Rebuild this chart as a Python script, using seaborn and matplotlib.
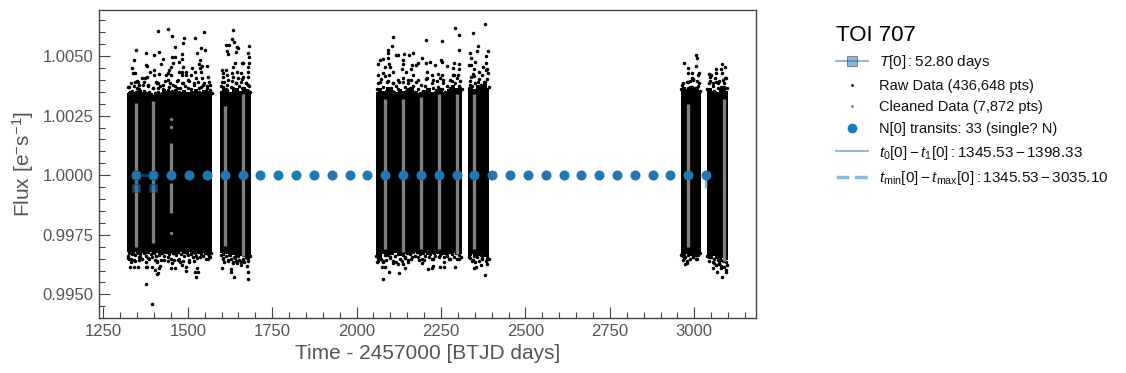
import numpy as np
import pandas as pd
import matplotlib
matplotlib.use('Agg')
import matplotlib.pyplot as plt
from matplotlib.lines import Line2D
from matplotlib.ticker import MultipleLocator, FormatStrFormatter
import seaborn as sns

# transit times for planet 0 (days)
transit_t = [1345.53, 1398.33, 1451.13, 1503.93, 1556.73, 1609.53, 1662.33, 1715.13, 1767.93,
             1820.73, 1873.53, 1926.33, 1979.13, 2031.93, 2084.73, 2137.53, 2190.33, 2243.13,
             2295.93, 2348.73, 2401.53, 2454.33, 2507.13, 2559.93, 2612.73, 2665.53, 2718.33,
             2771.13, 2823.93, 2876.73, 2929.53, 2982.33, 3035.13]
transit_f = [1.0] * len(transit_t)

# solid part of the light curve, one envelope per observing block
core1_t = [1321, 1333, 1345, 1357, 1369, 1381, 1393, 1405, 1417, 1429, 1441, 1453, 1465, 1477, 1489, 1501, 1513, 1525, 1537, 1549, 1561, 1573]
core1_hi = [1.00345, 1.00355, 1.00348, 1.00358, 1.00350, 1.00345, 1.00338, 1.00350, 1.00346, 1.00360, 1.00352, 1.00355, 1.00362, 1.00350, 1.00358, 1.00348, 1.00355, 1.00360, 1.00350, 1.00356, 1.00346, 1.00350]
core1_lo = [0.99680, 0.99670, 0.99678, 0.99666, 0.99675, 0.99668, 0.99680, 0.99672, 0.99665, 0.99677, 0.99670, 0.99675, 0.99668, 0.99677, 0.99670, 0.99680, 0.99670, 0.99675, 0.99668, 0.99674, 0.99668, 0.99674]
core2_t = [1596, 1606, 1616, 1626, 1636, 1646, 1656, 1666, 1676, 1686]
core2_hi = [1.00350, 1.00365, 1.00355, 1.00348, 1.00360, 1.00365, 1.00355, 1.00370, 1.00360, 1.00350]
core2_lo = [0.99672, 0.99660, 0.99668, 0.99658, 0.99665, 0.99656, 0.99662, 0.99656, 0.99650, 0.99664]
core3_t = [2057, 2069, 2081, 2093, 2105, 2117, 2129, 2141, 2153, 2165, 2177, 2189, 2201, 2213, 2225, 2237, 2249, 2261, 2273, 2285, 2297, 2313]
core3_hi = [1.00350, 1.00365, 1.00355, 1.00370, 1.00358, 1.00350, 1.00360, 1.00355, 1.00365, 1.00370, 1.00355, 1.00345, 1.00358, 1.00365, 1.00350, 1.00360, 1.00365, 1.00350, 1.00360, 1.00380, 1.00365, 1.00370]
core3_lo = [0.99665, 0.99652, 0.99670, 0.99658, 0.99665, 0.99672, 0.99660, 0.99670, 0.99664, 0.99672, 0.99680, 0.99668, 0.99675, 0.99665, 0.99670, 0.99676, 0.99670, 0.99676, 0.99668, 0.99675, 0.99665, 0.99670]
core4_t = [2330, 2340, 2350, 2360, 2370, 2380, 2393]
core4_hi = [1.00365, 1.00375, 1.00360, 1.00380, 1.00370, 1.00385, 1.00365]
core4_lo = [0.99660, 0.99670, 0.99655, 0.99662, 0.99670, 0.99658, 0.99665]
core5_t = [2960, 2970, 2980, 2990, 3000, 3010, 3020]
core5_hi = [1.00355, 1.00370, 1.00360, 1.00375, 1.00365, 1.00370, 1.00355]
core5_lo = [0.99662, 0.99652, 0.99670, 0.99662, 0.99670, 0.99658, 0.99668]
core6_t = [3037, 3047, 3057, 3067, 3077, 3087, 3101]
core6_hi = [1.00350, 1.00365, 1.00355, 1.00350, 1.00365, 1.00375, 1.00355]
core6_lo = [0.99658, 0.99648, 0.99662, 0.99650, 0.99645, 0.99652, 0.99645]

# scattered raw points read above and below the solid part
raw_hi1_t = [1413, 1440, 1454, 1490, 1520, 1549, 1487, 1463, 1348, 1377, 1401, 1416, 1484, 1528, 1540, 1552, 1428, 1454, 1463, 1484, 1342, 1475, 1422, 1537, 1534, 1375, 1378, 1558, 1543, 1336, 1457, 1451, 1443, 1440, 1487, 1475, 1496, 1496, 1484, 1514, 1520, 1537, 1540, 1339, 1345, 1401, 1389, 1401, 1416, 1380, 1437, 1449, 1484, 1511, 1561, 1351, 1363, 1372, 1369, 1344, 1407, 1413, 1440, 1472, 1502, 1525, 1543, 1564, 1327, 1357, 1383, 1398, 1428, 1457, 1487, 1517, 1546, 1329, 1351, 1369, 1413, 1440, 1469, 1502, 1532, 1558, 1566]
raw_hi1_f = [1.00606, 1.00613, 1.00585, 1.00575, 1.00575, 1.00600, 1.00554, 1.00537, 1.00526, 1.00512, 1.00505, 1.00516, 1.00509, 1.00512, 1.00533, 1.00526, 1.00488, 1.00494, 1.00494, 1.00488, 1.00484, 1.00473, 1.00467, 1.00484, 1.00466, 1.00463, 1.00459, 1.00459, 1.00459, 1.00452, 1.00470, 1.00456, 1.00442, 1.00431, 1.00456, 1.00435, 1.00435, 1.00421, 1.00435, 1.00449, 1.00435, 1.00449, 1.00435, 1.00428, 1.00428, 1.00442, 1.00432, 1.00421, 1.00425, 1.00414, 1.00421, 1.00421, 1.00421, 1.00421, 1.00414, 1.00397, 1.00407, 1.00407, 1.00393, 1.00393, 1.00393, 1.00386, 1.00400, 1.00400, 1.00400, 1.00407, 1.00407, 1.00393, 1.00372, 1.00379, 1.00379, 1.00365, 1.00379, 1.00379, 1.00386, 1.00386, 1.00379, 1.00351, 1.00365, 1.00351, 1.00365, 1.00358, 1.00365, 1.00365, 1.00365, 1.00365, 1.00358]
raw_hi2_t = [1635, 1632, 1636, 1614, 1623, 1647, 1650, 1682, 1644, 1617, 1620, 1679, 1682, 1641, 1662, 1665, 1635, 1682, 1677, 1632, 1600, 1614, 1647, 1659, 1677, 1603, 1617, 1605, 1635, 1650, 1665, 1679, 1600, 1620, 1644, 1671, 1605, 1635, 1660, 1679, 1615, 1599]
raw_hi2_f = [1.00609, 1.00571, 1.00561, 1.00547, 1.00547, 1.00540, 1.00533, 1.00541, 1.00519, 1.00523, 1.00508, 1.00512, 1.00495, 1.00470, 1.00470, 1.00470, 1.00456, 1.00470, 1.00453, 1.00428, 1.00442, 1.00442, 1.00435, 1.00431, 1.00435, 1.00428, 1.00421, 1.00411, 1.00414, 1.00407, 1.00414, 1.00414, 1.00393, 1.00400, 1.00386, 1.00386, 1.00372, 1.00365, 1.00365, 1.00379, 1.00358, 1.00351]
raw_hi3_t = [2381, 2292, 2346, 2304, 2109, 2206, 2254, 2106, 2360, 2357, 2304, 2390, 2094, 2094, 2118, 2124, 2141, 2156, 2168, 2337, 2340, 2384, 2094, 2079, 2070, 2064, 2138, 2138, 2195, 2206, 2218, 2251, 2254, 2233, 2269, 2289, 2304, 2183, 2177, 2165, 2162, 2135, 2147, 2097, 2100, 2085, 2109, 2064, 2079, 2209, 2286, 2304, 2334, 2340, 2352, 2384, 2375, 2349, 2387, 2390, 2363, 2346, 2340, 2168, 2224, 2242, 2254, 2286, 2301, 2124, 2138, 2153, 2183, 2209, 2227, 2257, 2277, 2069, 2089, 2109, 2380, 2360, 2336]
raw_hi3_f = [1.00634, 1.00617, 1.00596, 1.00588, 1.00579, 1.00567, 1.00562, 1.00541, 1.00541, 1.00522, 1.00525, 1.00522, 1.00526, 1.00512, 1.00504, 1.00504, 1.00508, 1.00504, 1.00512, 1.00512, 1.00491, 1.00499, 1.00491, 1.00488, 1.00483, 1.00466, 1.00483, 1.00466, 1.00491, 1.00470, 1.00474, 1.00483, 1.00474, 1.00462, 1.00457, 1.00470, 1.00466, 1.00470, 1.00462, 1.00462, 1.00445, 1.00445, 1.00432, 1.00466, 1.00453, 1.00453, 1.00435, 1.00420, 1.00428, 1.00435, 1.00449, 1.00445, 1.00462, 1.00462, 1.00474, 1.00470, 1.00456, 1.00445, 1.00445, 1.00428, 1.00432, 1.00424, 1.00411, 1.00421, 1.00421, 1.00424, 1.00421, 1.00421, 1.00421, 1.00400, 1.00393, 1.00400, 1.00400, 1.00407, 1.00400, 1.00400, 1.00400, 1.00393, 1.00393, 1.00386, 1.00393, 1.00393, 1.00379]
raw_hi4_t = [3006, 3009, 2971, 3006, 2982, 2982, 2994, 3015, 3012, 2994, 2997, 2965, 2982, 3015, 2991, 2974, 2997, 3009, 3083, 3092, 3065, 3080, 3083, 3065, 3045, 3051, 3048, 3062, 3048, 3056, 3071, 3092, 3089, 3042, 3061, 3076, 3051]
raw_hi4_f = [1.00504, 1.00491, 1.00470, 1.00457, 1.00449, 1.00428, 1.00428, 1.00428, 1.00420, 1.00407, 1.00399, 1.00379, 1.00393, 1.00386, 1.00372, 1.00355, 1.00361, 1.00365, 1.00466, 1.00453, 1.00445, 1.00445, 1.00428, 1.00428, 1.00424, 1.00420, 1.00411, 1.00407, 1.00394, 1.00386, 1.00386, 1.00407, 1.00369, 1.00358, 1.00351, 1.00351, 1.00344]
raw_lo1_t = [1375, 1395, 1496, 1496, 1484, 1526, 1523, 1529, 1520, 1413, 1410, 1416, 1404, 1395, 1418, 1380, 1375, 1342, 1330, 1354, 1451, 1463, 1454, 1472, 1478, 1431, 1440, 1505, 1517, 1526, 1561, 1564, 1404, 1410, 1375, 1345, 1327, 1333, 1357, 1324, 1359, 1383, 1339, 1369, 1398, 1428, 1457, 1497, 1536, 1566]
raw_lo1_f = [0.99542, 0.99458, 0.99598, 0.99616, 0.99623, 0.99609, 0.99574, 0.99592, 0.99592, 0.99588, 0.99584, 0.99609, 0.99602, 0.99616, 0.99620, 0.99616, 0.99616, 0.99616, 0.99616, 0.99616, 0.99612, 0.99612, 0.99630, 0.99644, 0.99634, 0.99644, 0.99640, 0.99634, 0.99640, 0.99651, 0.99648, 0.99662, 0.99644, 0.99634, 0.99634, 0.99640, 0.99648, 0.99634, 0.99644, 0.99654, 0.99658, 0.99651, 0.99672, 0.99679, 0.99679, 0.99679, 0.99672, 0.99672, 0.99679, 0.99672]
raw_lo2_t = [1602, 1629, 1629, 1638, 1677, 1679, 1674, 1635, 1647, 1659, 1605, 1620, 1676, 1665, 1679, 1641]
raw_lo2_f = [0.99609, 0.99605, 0.99595, 0.99571, 0.99563, 0.99592, 0.99620, 0.99634, 0.99630, 0.99637, 0.99654, 0.99644, 0.99651, 0.99644, 0.99654, 0.99651]
raw_lo3_t = [2079, 2097, 2127, 2142, 2212, 2224, 2227, 2248, 2260, 2292, 2381, 2349, 2355, 2369, 2387, 2076, 2085, 2061, 2064, 2109, 2124, 2138, 2153, 2162, 2186, 2195, 2200, 2227, 2260, 2275, 2304, 2337, 2372, 2387, 2099, 2079, 2143, 2252, 2178, 2267, 2346]
raw_lo3_f = [0.99563, 0.99596, 0.99588, 0.99609, 0.99605, 0.99609, 0.99620, 0.99617, 0.99613, 0.99613, 0.99580, 0.99609, 0.99617, 0.99622, 0.99626, 0.99617, 0.99617, 0.99634, 0.99651, 0.99630, 0.99626, 0.99626, 0.99634, 0.99647, 0.99643, 0.99630, 0.99643, 0.99647, 0.99634, 0.99647, 0.99647, 0.99651, 0.99651, 0.99648, 0.99651, 0.99640, 0.99651, 0.99672, 0.99679, 0.99672, 0.99644]
raw_lo4_t = [2974, 2979, 3006, 3006, 2997, 2965, 2971, 3056, 3059, 3074, 3068, 3080, 3083, 3095, 3095, 3077, 3086, 3045]
raw_lo4_f = [0.99626, 0.99630, 0.99647, 0.99664, 0.99659, 0.99672, 0.99651, 0.99609, 0.99630, 0.99626, 0.99592, 0.99609, 0.99575, 0.99601, 0.99592, 0.99643, 0.99643, 0.99672]

# dense fringe just outside the solid part, upper side
fringe_hi_t = [1323, 1327, 1331, 1336, 1340, 1347, 1352, 1356, 1361, 1366, 1371, 1376, 1381, 1386, 1392, 1396, 1403, 1408, 1412, 1418, 1423, 1427, 1433, 1438, 1443, 1447, 1452, 1458, 1463, 1467, 1473, 1478, 1483, 1489, 1493, 1499, 1504, 1509, 1514, 1519, 1524, 1529, 1534, 1539, 1544, 1548, 1553, 1557, 1562, 1567, 1571,
               1598, 1603, 1608, 1612, 1617, 1622, 1627, 1632, 1637, 1642, 1647, 1652, 1657, 1662, 1667, 1672, 1677, 1682, 1685,
               2059, 2064, 2068, 2073, 2078, 2083, 2088, 2092, 2097, 2102, 2107, 2112, 2117, 2122, 2127, 2132, 2137, 2142, 2147, 2152, 2157, 2162, 2167, 2172, 2177, 2182, 2187, 2192, 2197, 2202, 2207, 2212, 2217, 2222, 2227, 2232, 2237, 2242, 2247, 2252, 2257, 2262, 2267, 2272, 2277, 2282, 2287, 2292, 2297, 2302, 2307, 2311,
               2332, 2337, 2342, 2347, 2352, 2357, 2362, 2367, 2372, 2377, 2382, 2387, 2391,
               2962, 2967, 2972, 2977, 2982, 2987, 2992, 2997, 3002, 3007, 3012, 3017,
               3039, 3044, 3049, 3054, 3059, 3064, 3069, 3074, 3079, 3084, 3089, 3094, 3098]
fringe_hi_f = [1.00370, 1.00345, 1.00385, 1.00355, 1.00375, 1.00350, 1.00390, 1.00360, 1.00345, 1.00380, 1.00355, 1.00345, 1.00375, 1.00350, 1.00340, 1.00365, 1.00345, 1.00385, 1.00350, 1.00375, 1.00345, 1.00360, 1.00395, 1.00350, 1.00370, 1.00385, 1.00355, 1.00345, 1.00375, 1.00395, 1.00350, 1.00365, 1.00385, 1.00350, 1.00375, 1.00345, 1.00395, 1.00360, 1.00345, 1.00380, 1.00355, 1.00390, 1.00350, 1.00370, 1.00345, 1.00385, 1.00355, 1.00375, 1.00350, 1.00380, 1.00345,
               1.00375, 1.00350, 1.00390, 1.00360, 1.00380, 1.00345, 1.00370, 1.00395, 1.00355, 1.00385, 1.00350, 1.00375, 1.00390, 1.00405, 1.00365, 1.00385, 1.00355, 1.00375, 1.00350,
               1.00360, 1.00385, 1.00350, 1.00405, 1.00370, 1.00415, 1.00355, 1.00395, 1.00420, 1.00365, 1.00385, 1.00350, 1.00375, 1.00360, 1.00390, 1.00350, 1.00410, 1.00370, 1.00355, 1.00385, 1.00365, 1.00400, 1.00375, 1.00350, 1.00390, 1.00360, 1.00345, 1.00380, 1.00355, 1.00375, 1.00405, 1.00360, 1.00345, 1.00385, 1.00365, 1.00350, 1.00395, 1.00370, 1.00410, 1.00360, 1.00385, 1.00350, 1.00375, 1.00345, 1.00365, 1.00395, 1.00420, 1.00385, 1.00410, 1.00375, 1.00395, 1.00360,
               1.00365, 1.00395, 1.00375, 1.00415, 1.00385, 1.00365, 1.00405, 1.00380, 1.00420, 1.00390, 1.00440, 1.00405, 1.00370,
               1.00360, 1.00385, 1.00355, 1.00390, 1.00365, 1.00395, 1.00370, 1.00405, 1.00365, 1.00395, 1.00375, 1.00355,
               1.00360, 1.00385, 1.00350, 1.00375, 1.00355, 1.00390, 1.00365, 1.00395, 1.00370, 1.00400, 1.00385, 1.00410, 1.00365]
# dense fringe, lower side
fringe_lo_t = [1322, 1326, 1331, 1335, 1340, 1345, 1350, 1355, 1360, 1365, 1370, 1375, 1380, 1385, 1390, 1395, 1400, 1405, 1410, 1415, 1420, 1425, 1430, 1435, 1440, 1445, 1450, 1455, 1460, 1465, 1470, 1475, 1480, 1485, 1490, 1495, 1500, 1505, 1510, 1515, 1520, 1525, 1530, 1535, 1540, 1545, 1550, 1555, 1560, 1565, 1570,
               1598, 1603, 1608, 1613, 1618, 1623, 1628, 1633, 1638, 1643, 1648, 1653, 1658, 1663, 1668, 1673, 1678, 1683,
               2058, 2063, 2068, 2073, 2078, 2083, 2088, 2093, 2098, 2103, 2108, 2113, 2118, 2123, 2128, 2133, 2138, 2143, 2148, 2153, 2158, 2163, 2168, 2173, 2178, 2183, 2188, 2193, 2198, 2203, 2208, 2213, 2218, 2223, 2228, 2233, 2238, 2243, 2248, 2253, 2258, 2263, 2268, 2273, 2278, 2283, 2288, 2293, 2298, 2303, 2308,
               2332, 2337, 2342, 2347, 2352, 2357, 2362, 2367, 2372, 2377, 2382, 2387, 2391,
               2962, 2967, 2972, 2977, 2982, 2987, 2992, 2997, 3002, 3007, 3012, 3017,
               3039, 3044, 3049, 3054, 3059, 3064, 3069, 3074, 3079, 3084, 3089, 3094, 3098]
fringe_lo_f = [0.99660, 0.99675, 0.99650, 0.99670, 0.99645, 0.99665, 0.99680, 0.99655, 0.99670, 0.99650, 0.99675, 0.99660, 0.99680, 0.99650, 0.99670, 0.99655, 0.99675, 0.99660, 0.99640, 0.99665, 0.99645, 0.99675, 0.99660, 0.99680, 0.99655, 0.99670, 0.99650, 0.99675, 0.99645, 0.99665, 0.99680, 0.99650, 0.99670, 0.99640, 0.99660, 0.99680, 0.99665, 0.99645, 0.99670, 0.99655, 0.99675, 0.99660, 0.99680, 0.99655, 0.99670, 0.99660, 0.99675, 0.99650, 0.99670, 0.99655, 0.99675,
               0.99665, 0.99650, 0.99635, 0.99660, 0.99640, 0.99665, 0.99650, 0.99630, 0.99655, 0.99640, 0.99660, 0.99645, 0.99625, 0.99650, 0.99635, 0.99655, 0.99640, 0.99660,
               0.99660, 0.99640, 0.99670, 0.99650, 0.99635, 0.99665, 0.99645, 0.99670, 0.99655, 0.99675, 0.99640, 0.99660, 0.99635, 0.99670, 0.99650, 0.99640, 0.99665, 0.99655, 0.99675, 0.99645, 0.99670, 0.99655, 0.99680, 0.99660, 0.99680, 0.99655, 0.99670, 0.99650, 0.99675, 0.99660, 0.99680, 0.99655, 0.99670, 0.99650, 0.99675, 0.99660, 0.99680, 0.99655, 0.99665, 0.99680, 0.99655, 0.99675, 0.99660, 0.99680, 0.99650, 0.99670, 0.99655, 0.99675, 0.99650, 0.99665, 0.99655,
               0.99655, 0.99670, 0.99640, 0.99660, 0.99635, 0.99655, 0.99640, 0.99665, 0.99650, 0.99670, 0.99640, 0.99660, 0.99650,
               0.99665, 0.99645, 0.99655, 0.99640, 0.99665, 0.99650, 0.99670, 0.99660, 0.99675, 0.99650, 0.99665, 0.99675,
               0.99660, 0.99640, 0.99655, 0.99635, 0.99650, 0.99625, 0.99645, 0.99630, 0.99620, 0.99640, 0.99615, 0.99635, 0.99625]

# cleaned data, vertical runs of points at each transit
clean_t = [1345.53, 1398.33, 1451.13, 1451.13, 1609.53, 1662.33, 2084.73, 2137.53, 2190.33, 2243.13, 2295.93, 2348.73, 2982.33, 3087.93]
clean_lo = [0.99699, 0.99715, 0.99842, 0.99993, 0.99705, 0.99660, 0.99690, 0.99680, 0.99690, 0.99690, 0.99670, 0.99690, 0.99700, 0.99640]
clean_hi = [1.00303, 1.00310, 0.99967, 1.00136, 1.00290, 1.00340, 1.00320, 1.00320, 1.00330, 1.00340, 1.00340, 1.00340, 1.00300, 1.00320]
clean_dot_t = [1451.13, 1451.13, 1451.13]
clean_dot_f = [1.00236, 1.00203, 0.99758]

# T[0] and t0-t1 / tmin-tmax marks
period_t = [1345.53, 1398.33]
period_f = [1.0, 1.0]
marker_low_f = 0.99947
span_t = [1345.53, 3035.13]

BLUE = '#1f77b4'
TEXT = '#555555'
BLACK = '#000000'

sns.set_theme(style='ticks')
plt.rcParams['font.family'] = ['Liberation Sans', 'DejaVu Sans']
plt.rcParams['mathtext.fontset'] = 'custom'
plt.rcParams['mathtext.rm'] = 'Liberation Sans'
plt.rcParams['mathtext.it'] = 'Liberation Sans:italic'
plt.rcParams['mathtext.bf'] = 'Liberation Sans:bold'

fig = plt.figure(figsize=(11.26, 3.73), dpi=100)
ax = fig.add_axes([99.3 / 1126, 55 / 373, 657 / 1126, 307.7 / 373])

# 1. raw data
for t, hi, lo in [(core1_t, core1_hi, core1_lo), (core2_t, core2_hi, core2_lo), (core3_t, core3_hi, core3_lo),
                  (core4_t, core4_hi, core4_lo), (core5_t, core5_hi, core5_lo), (core6_t, core6_hi, core6_lo)]:
    ax.fill_between(t, lo, hi, color=BLACK, lw=0, step='mid', zorder=1)

raw = pd.DataFrame({
    'time': raw_hi1_t + raw_hi2_t + raw_hi3_t + raw_hi4_t + raw_lo1_t + raw_lo2_t + raw_lo3_t + raw_lo4_t + fringe_hi_t + fringe_lo_t,
    'flux': raw_hi1_f + raw_hi2_f + raw_hi3_f + raw_hi4_f + raw_lo1_f + raw_lo2_f + raw_lo3_f + raw_lo4_f + fringe_hi_f + fringe_lo_f,
})
sns.scatterplot(data=raw, x='time', y='flux', color=BLACK, s=6.5, linewidth=0, ax=ax, zorder=2, legend=False)

# 2. cleaned data
ax.vlines(clean_t, clean_lo, clean_hi, color='#808080', lw=2.4, zorder=3)
sns.scatterplot(x=clean_dot_t, y=clean_dot_f, color='#808080', s=6, linewidth=0, ax=ax, zorder=3, legend=False)

# 3. transit marks
sns.lineplot(x=period_t, y=period_f, color=BLUE, lw=2, alpha=0.5, ax=ax, zorder=4, errorbar=None)
ax.vlines(period_t, marker_low_f, 1.0, color=BLUE, lw=2, alpha=0.5, zorder=4)
ax.vlines(span_t, marker_low_f, 1.0, color=BLUE, lw=2.5, alpha=0.5, zorder=4, linestyles='--')
sns.scatterplot(x=transit_t, y=transit_f, color=BLUE, s=52, linewidth=0, ax=ax, zorder=5, legend=False)
sns.scatterplot(x=period_t * 2, y=period_f + [marker_low_f] * 2, marker='s', color=BLUE, s=40, alpha=0.6,
                edgecolor='#333333', linewidth=0.6, ax=ax, zorder=6, legend=False)

ax.set_xlim(1238, 3183.7)
ax.set_ylim(0.99401, 1.00692)
ax.set_xlabel('Time - 2457000 [BTJD days]', fontsize=15, color=TEXT, labelpad=4)
ax.set_ylabel(r'Flux [e$^{-}$s$^{-1}$]', fontsize=15, color=TEXT, labelpad=5)
ax.xaxis.set_major_locator(MultipleLocator(250))
ax.xaxis.set_minor_locator(MultipleLocator(50))
ax.yaxis.set_major_locator(MultipleLocator(0.0025))
ax.yaxis.set_minor_locator(MultipleLocator(0.0005))
ax.yaxis.set_major_formatter(FormatStrFormatter('%.4f'))
ax.tick_params(which='major', direction='in', length=8, width=0.8, color='#444444', labelcolor=TEXT, labelsize=12, pad=4)
ax.tick_params(which='minor', direction='in', length=4, width=0.8, color='#444444')
for s in ax.spines.values():
    s.set_color('#444444')
    s.set_linewidth(1)
    s.set_visible(True)

# legend built by hand to keep the original order
handles = [
    Line2D([], [], color=BLUE, lw=1.5, alpha=0.5, marker='s', ms=6.5, mfc=BLUE, mec='#333333', mew=0.8),
    Line2D([], [], color=BLACK, ls='', marker='o', ms=2, mew=0),
    Line2D([], [], color='#808080', ls='', marker='o', ms=2, mew=0),
    Line2D([], [], color=BLUE, ls='', marker='o', ms=7, mew=0),
    Line2D([], [], color=BLUE, lw=1.5, alpha=0.5),
    Line2D([], [], color=BLUE, lw=2.5, alpha=0.5, ls='--'),
]
labels = [
    r'$T[0]: 52.80$ days',
    'Raw Data (436,648 pts)',
    'Cleaned Data (7,872 pts)',
    'N[0] transits: 33 (single? N)',
    r'$t_0[0] - t_1[0]: 1345.53 - 1398.33$',
    r'$t_{\rm min}[0] - t_{\rm max}[0]: 1345.53 - 3035.10$',
]
leg = fig.legend(handles, labels, title='TOI 707', loc='upper left', bbox_to_anchor=(824 / 1126, 1 - 13 / 373),
                 frameon=False, fontsize=10.5, title_fontsize=16, alignment='left', labelspacing=0.52,
                 handlelength=2.2, handletextpad=0.8, borderpad=0.3)
leg.get_title().set_color(BLACK)
for i, txt in enumerate(leg.get_texts()):
    txt.set_color('#111111')
    if i in (0, 4, 5):
        txt.set_fontsize(11)

fig.savefig('out.png', dpi=100)
